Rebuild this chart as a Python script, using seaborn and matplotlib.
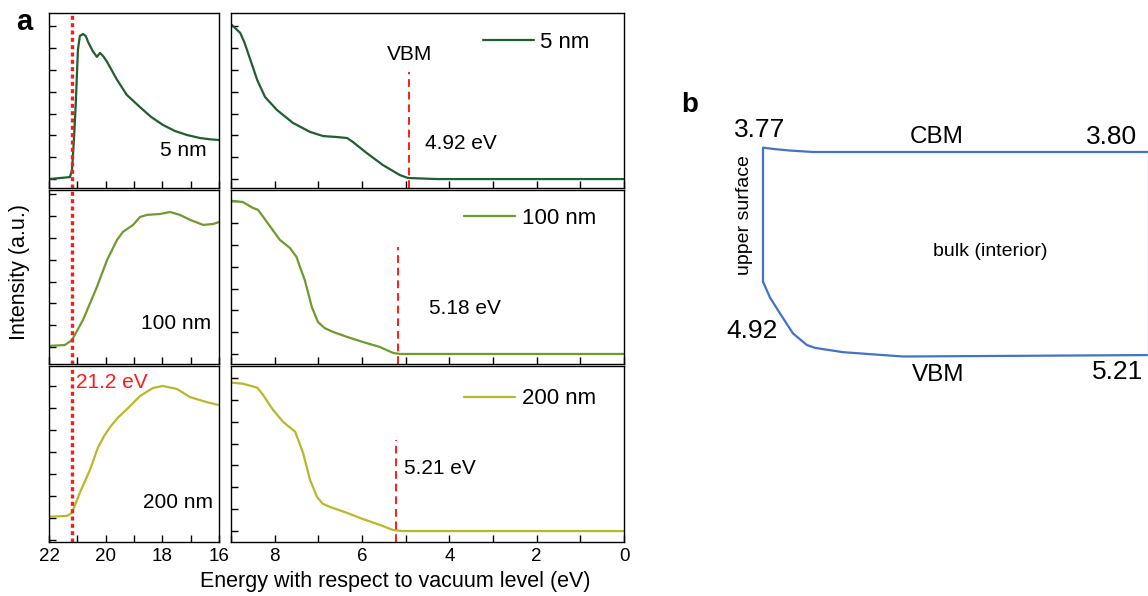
import numpy as np
import pandas as pd
import matplotlib
matplotlib.use("Agg")
import matplotlib.pyplot as plt
import seaborn as sns
from matplotlib.ticker import MultipleLocator

sns.set_style("ticks")
plt.rcParams["font.family"] = ["Liberation Sans", "DejaVu Sans"]
plt.rcParams["text.color"] = "black"
plt.rcParams["axes.labelcolor"] = "black"
plt.rcParams["xtick.color"] = "black"
plt.rcParams["ytick.color"] = "black"

# ---- panel a data (intensity in a.u.) ----
thick = ["5 nm", "100 nm", "200 nm"]
colors = ["#1f5f2e", "#6f9a2c", "#b8b82c"]

# secondary electron cutoff region (22 -> 16 eV)
cut_e_5 = [22.0, 21.26, 21.19, 21.12, 21.05, 20.98, 20.91, 20.80, 20.70, 20.62, 20.45,
           20.31, 20.20, 20.08, 19.95, 19.60, 19.25, 18.79, 18.40, 17.98, 17.55, 17.13,
           16.67, 16.30, 16.0]
cut_i_5 = [0.0, 0.09, 0.41, 1.79, 3.62, 5.92, 6.56, 6.65, 6.55, 6.28, 5.85,
           5.60, 5.78, 5.62, 5.37, 4.55, 3.85, 3.30, 2.85, 2.48, 2.20, 2.02,
           1.88, 1.82, 1.79]
cut_e_100 = [22.0, 21.44, 21.19, 20.80, 20.31, 19.95, 19.60, 19.39, 19.03, 18.79,
             18.54, 18.08, 17.73, 17.38, 17.02, 16.56, 16.21, 16.0]
cut_i_100 = [0.05, 0.09, 0.32, 1.24, 2.75, 3.99, 4.91, 5.28, 5.60, 5.96,
             6.06, 6.10, 6.19, 6.06, 5.83, 5.60, 5.64, 5.73]
cut_e_200 = [22.0, 21.36, 21.19, 20.91, 20.55, 20.27, 20.05, 19.85, 19.55, 19.25, 18.79,
             18.33, 17.98, 17.48, 17.02, 16.42, 16.0]
cut_i_200 = [1.06, 1.10, 1.24, 2.16, 3.21, 4.22, 4.75, 5.14, 5.60, 5.96, 6.56,
             6.93, 7.02, 6.88, 6.51, 6.28, 6.15]

# valence band onset region (9 -> 0 eV)
vb_e_5 = [8.98, 8.79, 8.70, 8.61, 8.40, 8.22, 7.95, 7.58, 7.19, 6.89, 6.60, 6.34, 6.21,
          5.89, 5.52, 5.13, 4.95, 4.28, 0.0]
vb_i_5 = [7.06, 6.70, 6.30, 5.78, 4.54, 3.76, 3.17, 2.57, 2.16, 1.97, 1.93, 1.88, 1.70,
          1.19, 0.64, 0.18, 0.05, 0.0, 0.0]
vb_e_100 = [8.98, 8.73, 8.50, 8.38, 8.18, 7.88, 7.65, 7.50, 7.42, 7.31, 7.15, 7.01,
            6.85, 6.66, 6.34, 5.98, 5.59, 5.29, 5.13, 4.60, 0.0]
vb_i_100 = [7.02, 6.97, 6.70, 6.61, 6.06, 5.23, 4.86, 4.45, 3.99, 3.39, 2.16, 1.47,
            1.18, 1.01, 0.78, 0.55, 0.32, 0.05, 0.0, 0.0, 0.0]
vb_e_200 = [8.98, 8.73, 8.40, 8.27, 8.04, 7.81, 7.53, 7.35, 7.19, 7.03, 6.90, 6.73,
            6.34, 5.98, 5.59, 5.29, 5.08, 0.0]
vb_i_200 = [6.79, 6.74, 6.56, 6.24, 5.55, 5.00, 4.54, 3.58, 2.34, 1.56, 1.25, 1.10,
            0.83, 0.55, 0.28, 0.05, 0.0, 0.0]

cutoff = 21.2
vbm = [4.92, 5.18, 5.21]

cut_e = [cut_e_5, cut_e_100, cut_e_200]
cut_i = [cut_i_5, cut_i_100, cut_i_200]
vb_e = [vb_e_5, vb_e_100, vb_e_200]
vb_i = [vb_i_5, vb_i_100, vb_i_200]

# ---- panel b data (schematic band edges) ----
cbm_depth = [0.0, 0.031, 0.070, 0.13, 1.0]
cbm_energy = [3.77, 3.78, 3.79, 3.80, 3.80]
vbm_depth = [0.0, 0.018, 0.044, 0.078, 0.114, 0.135, 0.208, 0.364, 1.0]
vbm_energy = [4.70, 4.81, 4.92, 5.06, 5.14, 5.16, 5.19, 5.22, 5.21]

W, H = 1148, 596
fig = plt.figure(figsize=(W / 100, H / 100), dpi=100)


def rect(x0, y0, x1, y1):
    return [x0 / W, 1 - y1 / H, (x1 - x0) / W, (y1 - y0) / H]


rows = [(13, 188), (190, 364), (366, 542)]
left_ylim = [(-0.41, 7.61), (-0.78, 7.2), (-0.09, 7.93)]
right_ylim = [(-0.41, 7.61), (-0.46, 7.52), (-0.5, 7.55)]
lab_pos = [(0.93, 0.217), (0.953, 0.23), (0.965, 0.227)]
leg_pos = [(0.964, 0.834), (0.98, 0.839), (0.98, 0.8125)]
vbm_txt = [(4.56, 0.257), (4.47, 0.32), (5.04, 0.42)]
dash_top = [0.663, 0.672, 0.58]

for k in range(3):
    y0, y1 = rows[k]
    axl = fig.add_axes(rect(49, y0, 219, y1))
    axr = fig.add_axes(rect(231, y0, 624, y1))

    sns.lineplot(x=cut_e[k], y=cut_i[k], ax=axl, color=colors[k], linewidth=1.6)
    sns.lineplot(x=vb_e[k], y=vb_i[k], ax=axr, color=colors[k], linewidth=1.6,
                 label=thick[k])

    axl.set_xlim(22, 16)
    axr.set_xlim(9, 0)
    axl.set_ylim(*left_ylim[k])
    axr.set_ylim(*right_ylim[k])
    axl.xaxis.set_major_locator(MultipleLocator(2))
    axl.xaxis.set_minor_locator(MultipleLocator(1))
    axr.xaxis.set_major_locator(MultipleLocator(2))
    axr.xaxis.set_minor_locator(MultipleLocator(1))

    for ax in (axl, axr):
        ax.yaxis.set_major_locator(MultipleLocator(1))
        ax.set_yticklabels([])
        ax.tick_params(direction="in", length=5, width=1, labelsize=13.5,
                       pad=4, colors="black")
        ax.tick_params(which="minor", direction="in", length=5, width=1)
        for s in ax.spines.values():
            s.set_linewidth(1.0)
            s.set_color("black")
        ax.set_xlabel("")
        ax.set_ylabel("")
        if k < 2:
            ax.set_xticklabels([])

    axl.axvline(cutoff, color="#ff1a1a", linestyle=(0, (1.2, 1.0)), linewidth=2.4,
                clip_on=False)
    axl.text(lab_pos[k][0], lab_pos[k][1], thick[k], transform=axl.transAxes,
             ha="right", va="center", fontsize=15)

    axr.axvline(vbm[k], ymin=0, ymax=dash_top[k], color="#ff1a1a",
                linestyle=(0, (4, 2.5)), linewidth=1.4)
    axr.text(vbm_txt[k][0], vbm_txt[k][1], f"{vbm[k]:.2f} eV",
             transform=axr.get_xaxis_transform(), ha="left", va="center", fontsize=15)
    leg = axr.legend(loc="center right", bbox_to_anchor=leg_pos[k], frameon=False,
                     fontsize=16, handlelength=2.3, handletextpad=0.3)
    for t in leg.get_texts():
        t.set_color("black")

    if k == 0:
        axr.text(vbm[0], 0.76, "VBM", transform=axr.get_xaxis_transform(),
                 ha="center", va="center", fontsize=15)
    if k == 2:
        axl.text(0.159, 0.909, f"{cutoff} eV", transform=axl.transAxes, color="#ff1a1a",
                 ha="left", va="center", fontsize=15)

fig.text(395 / W, 1 - 582 / H, "Energy with respect to vacuum level (eV)",
         ha="center", va="center", fontsize=15.5)
fig.text(20 / W, 1 - 272 / H, "Intensity (a.u.)", rotation=90,
         ha="center", va="center", fontsize=15.5)
fig.text(24 / W, 1 - 22 / H, "a", fontsize=21, fontweight="bold",
         ha="center", va="center")
fig.text(690 / W, 1 - 105 / H, "b", fontsize=20, fontweight="bold",
         ha="center", va="center")

# ---- panel b ----
axb = fig.add_axes(rect(700, 100, 1148, 400))
blue = "#4472c4"
sns.lineplot(x=cbm_depth, y=cbm_energy, ax=axb, color=blue, linewidth=1.6, sort=False)
sns.lineplot(x=vbm_depth, y=vbm_energy, ax=axb, color=blue, linewidth=1.6, sort=False)
axb.plot([cbm_depth[0], vbm_depth[0]], [cbm_energy[0], vbm_energy[0]], color=blue,
         linewidth=1.6)
axb.plot([cbm_depth[-1], vbm_depth[-1]], [cbm_energy[-1], vbm_energy[-1]],
         color="#c9d6ee", linewidth=1.0, clip_on=False)
axb.set_xlim(-0.1636, 1.0)
axb.set_ylim(5.522, 3.439)
axb.axis("off")

axb.text(-0.008, 3.647, f"{cbm_energy[0]:.2f}", ha="center", va="center", fontsize=19)
axb.text(0.906, 3.696, f"{cbm_energy[-1]:.2f}", ha="center", va="center", fontsize=19)
axb.text(0.452, 3.696, "CBM", ha="center", va="center", fontsize=17.5)
axb.text(-0.029, 5.04, "4.92", ha="center", va="center", fontsize=19)
axb.text(0.922, 5.33, f"{vbm_energy[-1]:.2f}", ha="center", va="center", fontsize=19)
axb.text(0.455, 5.35, "VBM", ha="center", va="center", fontsize=17.5)
axb.text(-0.047, 4.24, "upper surface", rotation=90, ha="center", va="center",
         fontsize=14)
axb.text(0.59, 4.49, "bulk (interior)", ha="center", va="center", fontsize=14)

fig.savefig("out.png", dpi=100)
